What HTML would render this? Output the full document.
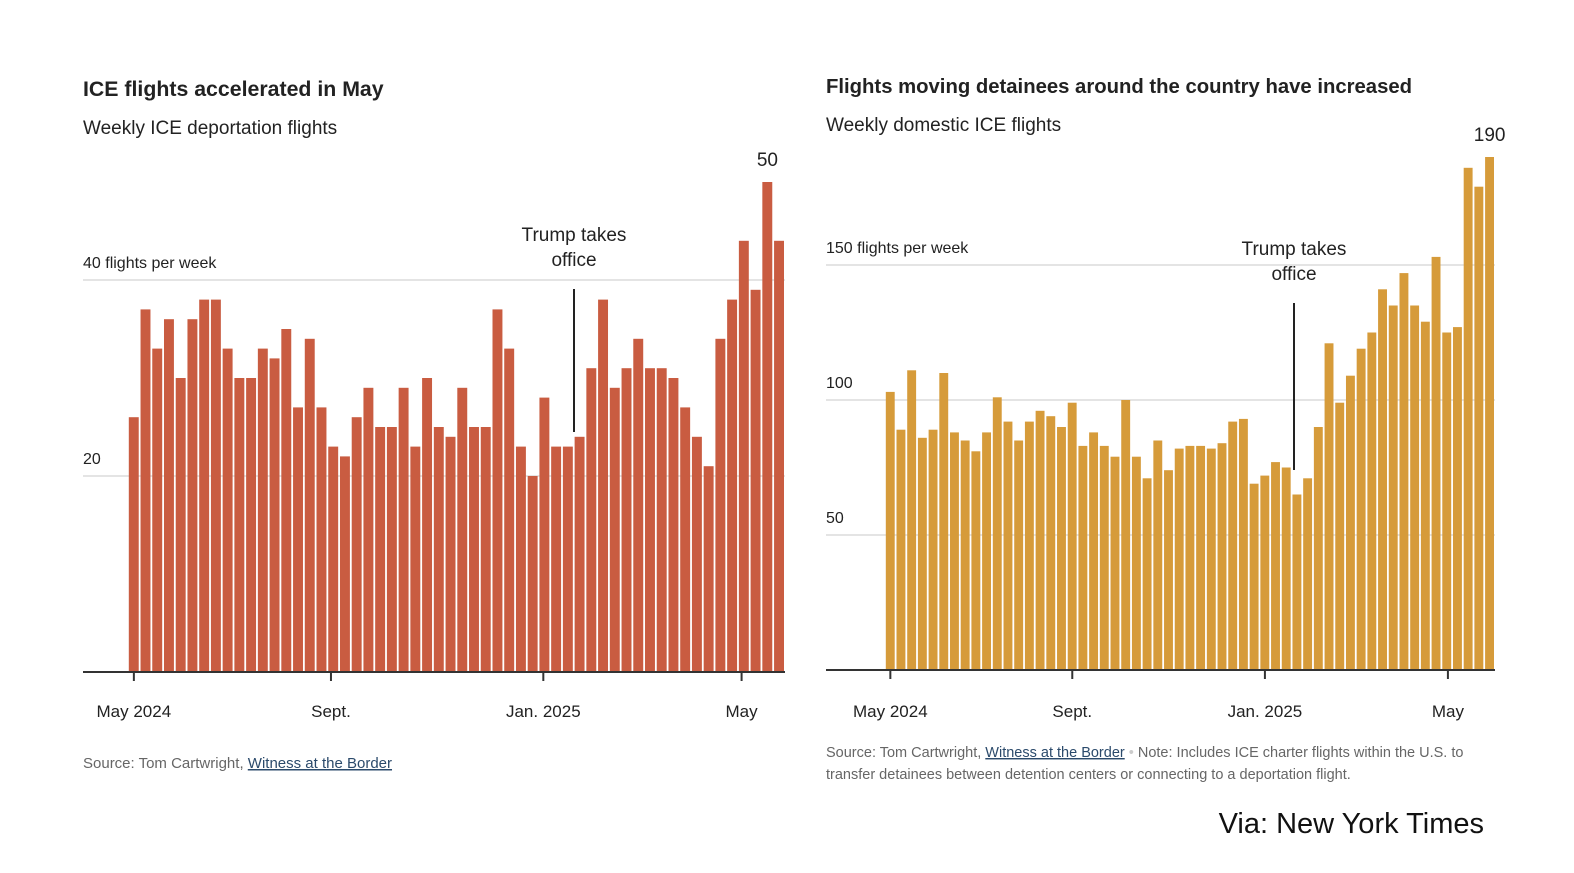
<!DOCTYPE html>
<html><head><meta charset="utf-8">
<style>
body{margin:0;background:#fff;width:1574px;height:868px;overflow:hidden;font-family:"Liberation Sans",sans-serif;}
svg text{font-family:"Liberation Sans",sans-serif;}
</style></head>
<body>
<svg id="s" width="1574" height="868" xmlns="http://www.w3.org/2000/svg">
<text x="83" y="96" font-size="21.3" font-weight="bold" fill="#222">ICE flights accelerated in May</text>
<text x="83" y="134" font-size="19" fill="#222">Weekly ICE deportation flights</text>
<text x="826" y="93" font-size="20.3" font-weight="bold" fill="#222">Flights moving detainees around the country have increased</text>
<text x="826" y="131" font-size="19" fill="#222">Weekly domestic ICE flights</text>
<g id="L"></g><g id="R"></g>
<text x="83" y="768" font-size="15" fill="#666">Source: Tom Cartwright, <tspan fill="#2b4a6b" text-decoration="underline">Witness at the Border</tspan></text>
<text x="826" y="757" font-size="14.5" fill="#666">Source: Tom Cartwright, <tspan fill="#2b4a6b" text-decoration="underline">Witness at the Border</tspan><tspan fill="#ccc"> • </tspan> Note: Includes ICE charter flights within the U.S. to</text>
<text x="826" y="779" font-size="14.5" fill="#666">transfer detainees between detention centers or connecting to a deportation flight.</text>
<text x="1484" y="833" font-size="29" fill="#111" text-anchor="end">Via: New York Times</text>
</svg>
<script>
const leftValues=[26,37,33,36,30,36,38,38,33,30,30,33,32,35,27,34,27,23,22,26,29,25,25,29,23,30,25,24,29,25,25,37,33,23,20,28,23,23,24,31,38,29,31,34,31,31,30,27,24,21,34,38,44,39,50,44];
const leftTicks=["20","40 flights per week"];
const leftTickVals=[20,40];
const leftXLabels=["May 2024","Sept.","Jan. 2025","May"];
const leftXIdx=[0.5,17.3,35.4,52.3];
const rightValues=[103,89,111,86,89,110,88,85,81,88,101,92,85,92,96,94,90,99,83,88,83,79,100,79,71,85,74,82,83,83,82,84,92,93,69,72,77,75,65,71,90,121,99,109,119,125,141,135,147,135,129,153,125,127,186,179,190];
const rightTicks=["50","100","150 flights per week"];
const rightTickVals=[50,100,150];
const rightXLabels=["May 2024","Sept.","Jan. 2025","May"];
const rightXIdx=[0.5,17.5,35.5,52.6];
const NS="http://www.w3.org/2000/svg";
function mk(p,t,a){const e=document.createElementNS(NS,t);for(const k in a)e.setAttribute(k,a[k]);p.appendChild(e);return e;}
function draw(gid,vals,ticks,tickVals,xl,xi,o){
 const g=document.getElementById(gid);
 const y=v=>o.base-v*o.scale;
 const pitch=(o.x1-o.x0)/vals.length;
 const x=i=>o.x0+i*pitch;
 tickVals.forEach((tv,i)=>{
  const l=mk(g,'line',{x1:o.gx0,x2:o.gx1,y1:y(tv),y2:y(tv),stroke:'#e4e4e4','stroke-width':2});
  
  
  const t=mk(g,'text',{x:o.gx0,y:y(tv)-12,'font-size':16,fill:'#222'});t.textContent=ticks[i];
  
  
 });
 vals.forEach((v,i)=>{
  const r=mk(g,'rect',{x:x(i)+0.8,y:y(v),width:pitch-1.8,height:v*o.scale,fill:o.color});
  
  
 });
 const b=mk(g,'line',{x1:o.gx0,x2:o.gx1,y1:o.base,y2:o.base,stroke:'#333','stroke-width':2});
 
 
 xl.forEach((s,i)=>{
  const px=x(xi[i]);
  const tk=mk(g,'line',{x1:px,x2:px,y1:o.base,y2:o.base+9,stroke:'#333','stroke-width':2});
  
  
  const t=mk(g,'text',{x:px,y:717,'font-size':17,fill:'#222','text-anchor':'middle'});t.textContent=s;
  
  
 });
 const mx=Math.max(...vals),mi=vals.indexOf(mx);
 const pk=mk(g,'text',{x:x(mi)+pitch/2,y:y(mx)-16,'font-size':19,fill:'#222','text-anchor':'middle'});pk.textContent=String(mx);
 
 
 const a=mk(g,'line',{x1:o.tx,x2:o.tx,y1:o.ty0,y2:o.ty1,stroke:'#222','stroke-width':2});
 
 
 const t1=mk(g,'text',{x:o.tx,y:o.ty0-48,'font-size':19,fill:'#222','text-anchor':'middle'});t1.textContent='Trump takes';
 
 
 const t2=mk(g,'text',{x:o.tx,y:o.ty0-23,'font-size':19,fill:'#222','text-anchor':'middle'});t2.textContent='office';
 
 
}
draw('L',leftValues,leftTicks,leftTickVals,leftXLabels,leftXIdx,{base:672,scale:9.8,x0:128,x1:785,gx0:83,gx1:785,color:'#c95c41',tx:574,ty0:289,ty1:432});
draw('R',rightValues,rightTicks,rightTickVals,rightXLabels,rightXIdx,{base:670,scale:2.7,x0:885,x1:1495,gx0:826,gx1:1495,color:'#d69b3a',tx:1294,ty0:303,ty1:470});
</script>
</body></html>
